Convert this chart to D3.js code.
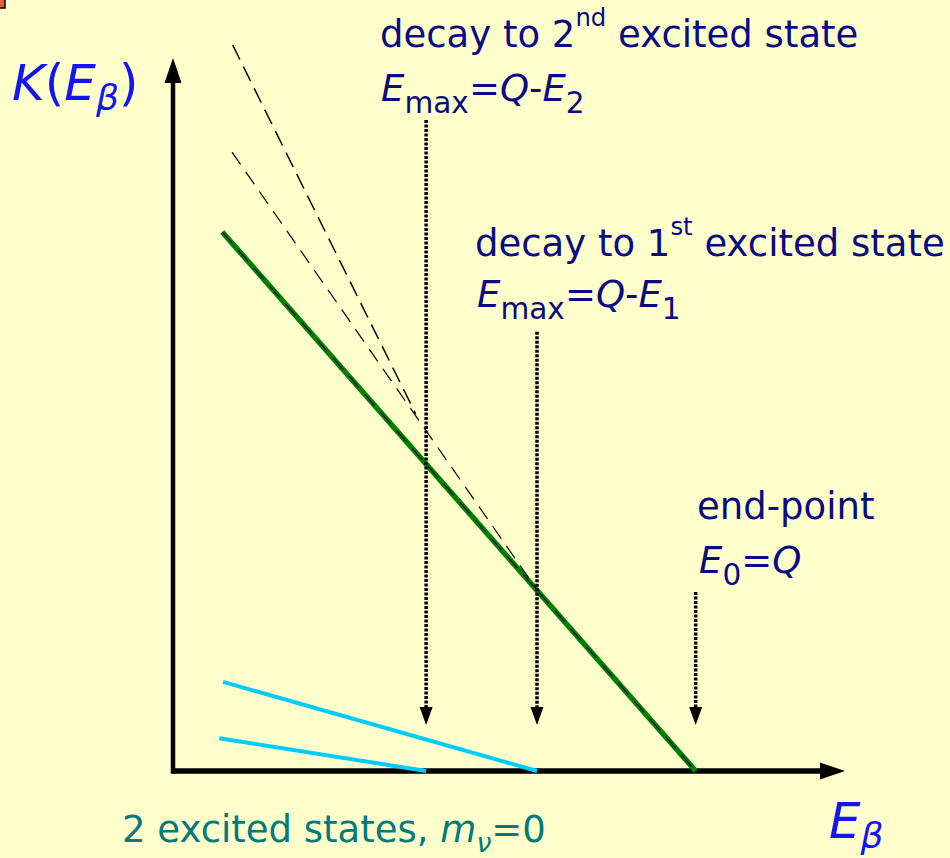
<!DOCTYPE html>
<html>
<head>
<meta charset="utf-8">
<script src="https://cdn.jsdelivr.net/npm/d3@7"></script>
<style>
  html, body { margin: 0; padding: 0; background: #ffffcc; }
  svg { display: block; font-family: 'DejaVu Sans', Verdana, sans-serif; }
</style>
</head>
<body>
<div id="chart"></div>
<script>
// Kurie plot values (E in arbitrary energy units, K in arbitrary units)
const groundE = [0.66, 7.0];
const groundK = [7.56, 0];
const sumFirstE = [0.79, 4.875];   // dashed, meets ground line at Q-E1
const sumFirstK = [8.68, 2.54];
const sumSecondE = [0.80, 3.25];   // dashed, meets first dashed line near Q-E2
const sumSecondK = [10.18, 5.01];
const branchFirstE = [0.67, 4.875];
const branchFirstK = [1.25, 0];
const branchSecondE = [0.62, 3.39];
const branchSecondK = [0.46, 0];
const markerE = [3.39, 4.875, 7.0];     // Q-E2, Q-E1, Q
const markerTopK = [9.13, 6.16, 2.51];
const markerTipK = 0.645;

const width = 950, height = 858;

const svg = d3.select('#chart').append('svg')
  .attr('width', width)
  .attr('height', height);

svg.append('rect').attr('width', width).attr('height', height).attr('fill', '#ffffcc');

// little slide artifact in the corner
svg.append('rect').attr('x', -1).attr('y', -1).attr('width', 6).attr('height', 9)
  .attr('fill', '#e0603a').attr('stroke', '#000').attr('stroke-width', 1.5);

const x = d3.scaleLinear().domain([0, 9]).range([173, 845]);
const y = d3.scaleLinear().domain([0, 10]).range([771, 58]);

const line = d3.line().x(d => x(d[0])).y(d => y(d[1]));
const pts = (es, ks) => es.map((e, i) => [e, ks[i]]);

// axes with arrow heads
const axisG = svg.append('g');
axisG.append('line')
  .attr('x1', x(0)).attr('x2', x(0))
  .attr('y1', y(0) + 2.5).attr('y2', y(10) + 25)
  .attr('stroke', '#000').attr('stroke-width', 4.5);
axisG.append('path')
  .attr('d', `M${x(0)},${y(10)} L${x(0) - 8.5},${y(10) + 25} L${x(0) + 8.5},${y(10) + 25} Z`)
  .attr('fill', '#000');
axisG.append('line')
  .attr('x1', x(0) - 2).attr('x2', x(9) - 25)
  .attr('y1', y(0)).attr('y2', y(0))
  .attr('stroke', '#000').attr('stroke-width', 5.5);
axisG.append('path')
  .attr('d', `M${x(9)},${y(0)} L${x(9) - 25},${y(0) - 8.5} L${x(9) - 25},${y(0) + 8.5} Z`)
  .attr('fill', '#000');

// cyan branch lines
[[branchFirstE, branchFirstK], [branchSecondE, branchSecondK]].forEach(([es, ks]) => {
  svg.append('path')
    .attr('d', line(pts(es, ks)))
    .attr('fill', 'none')
    .attr('stroke', '#00ccff')
    .attr('stroke-width', 4);
});

// ground state line (green) with dashed overlay
svg.append('path')
  .attr('d', line(pts(groundE, groundK)))
  .attr('fill', 'none')
  .attr('stroke', '#008000')
  .attr('stroke-width', 5.5);
svg.append('path')
  .attr('d', line(pts(groundE, groundK)))
  .attr('fill', 'none')
  .attr('stroke', '#000')
  .attr('stroke-width', 1.1)
  .attr('stroke-dasharray', '15,9');

// dashed summed lines
svg.append('path')
  .attr('d', line(pts(sumFirstE, sumFirstK)))
  .attr('fill', 'none')
  .attr('stroke', '#000')
  .attr('stroke-width', 1.2)
  .attr('stroke-dasharray', '15,9');
svg.append('path')
  .attr('d', line(pts(sumSecondE, sumSecondK)))
  .attr('fill', 'none')
  .attr('stroke', '#000')
  .attr('stroke-width', 1.5)
  .attr('stroke-dasharray', '16,8');

// dotted marker arrows
markerE.forEach((e, i) => {
  svg.append('line')
    .attr('x1', x(e)).attr('x2', x(e))
    .attr('y1', y(markerTopK[i])).attr('y2', y(markerTipK) - 16)
    .attr('stroke', '#000')
    .attr('stroke-width', 3.5)
    .attr('stroke-dasharray', '3,1.5');
  svg.append('path')
    .attr('d', `M${x(e)},${y(markerTipK)} L${x(e) - 6.5},${y(markerTipK) - 18} L${x(e) + 6.5},${y(markerTipK) - 18} Z`)
    .attr('fill', '#000');
});

// rich text helper: parts = [{t, it, sub, sup}]
function rich(px, py, parts, size, fill) {
  const t = svg.append('text')
    .attr('x', px).attr('y', py)
    .attr('font-size', size)
    .attr('fill', fill);
  let shift = 0;
  parts.forEach(p => {
    const target = p.sub ? size * (p.subOff || 0.33) : p.sup ? -size * 0.58 : 0;
    const fs = p.sub ? size * (p.scale || 0.8) : p.sup ? size * 0.66 : size;
    t.append('tspan')
      .attr('dy', target - shift)
      .attr('font-size', fs)
      .attr('font-style', p.it ? 'italic' : 'normal')
      .text(p.t);
    shift = target;
  });
  return t;
}

const navy = '#0a0a82';
const blue = '#1414f5';
const teal = '#007a7a';

rich(12, 100, [{t: 'K', it: true}, {t: '('}, {t: 'E', it: true},
  {t: 'β', it: true, sub: true, subOff: 0.2, scale: 0.72}, {t: ')'}], 50, blue);
rich(829, 838, [{t: 'E', it: true}, {t: 'β', it: true, sub: true, subOff: 0.2, scale: 0.72}], 50, blue);

rich(380, 47, [{t: 'decay to 2'}, {t: 'nd', sup: true}, {t: ' excited state'}], 37, navy);
rich(381, 101, [{t: 'E', it: true}, {t: 'max', sub: true}, {t: '='}, {t: 'Q', it: true},
  {t: '-'}, {t: 'E', it: true}, {t: '2', sub: true}], 37, navy);

rich(475, 256, [{t: 'decay to 1'}, {t: 'st', sup: true}, {t: ' excited state'}], 37, navy);
rich(477, 307, [{t: 'E', it: true}, {t: 'max', sub: true}, {t: '='}, {t: 'Q', it: true},
  {t: '-'}, {t: 'E', it: true}, {t: '1', sub: true}], 37, navy);

rich(697, 519, [{t: 'end-point'}], 37, navy);
rich(699, 573, [{t: 'E', it: true}, {t: '0', sub: true}, {t: '='}, {t: 'Q', it: true}], 37, navy);

rich(122, 842, [{t: '2 excited states, '}, {t: 'm', it: true},
  {t: 'ν', it: true, sub: true, subOff: 0.28, scale: 0.72}, {t: '=0'}], 37, teal);
</script>
</body>
</html>
